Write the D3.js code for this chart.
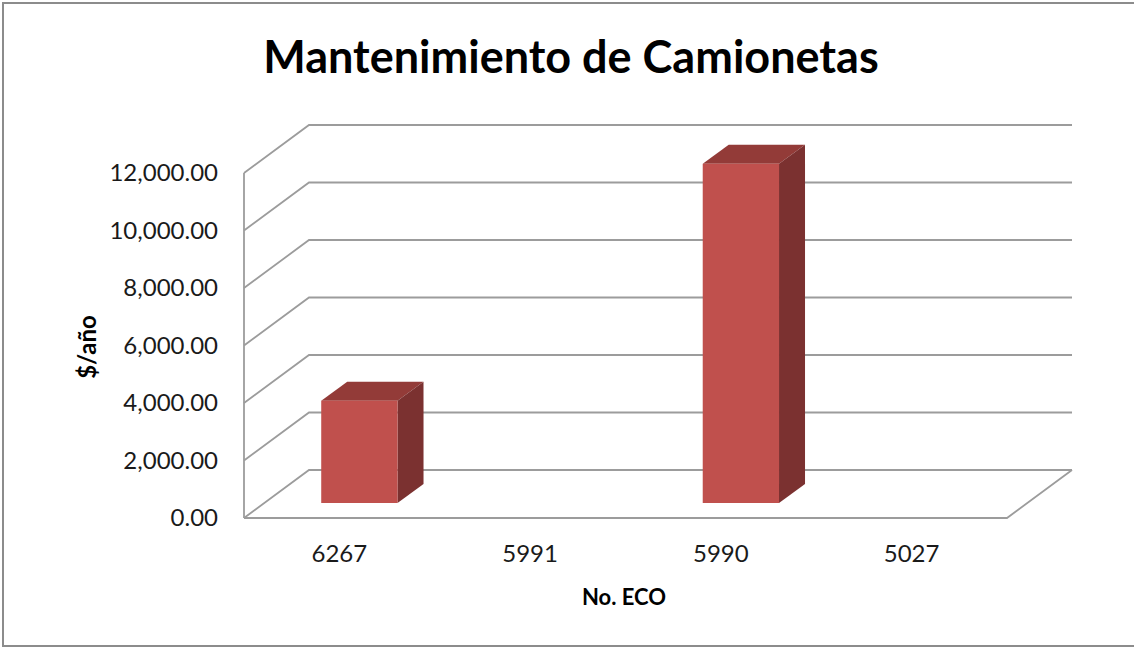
<!DOCTYPE html>
<html>
<head>
<meta charset="utf-8">
<script src="https://cdn.jsdelivr.net/npm/d3@7"></script>
<style>
  body { margin: 0; background: #fff; }
  svg { display: block; font-family: Lato, "Open Sans", sans-serif; }
</style>
</head>
<body>
<svg id="chart" width="1134" height="648"></svg>
<script>
const categories = ["6267", "5991", "5990", "5027"];
const values = [3560, 0, 11800, 0];
const yTicks = [0, 2000, 4000, 6000, 8000, 10000, 12000];

const svg = d3.select("#chart");

// 3d offsets: back wall, bar front and bar back
const depth = { dx: 65, dy: -48 };
const barFront = { dx: 20, dy: -15 };
const barBack = { dx: 46, dy: -34 };

const x = d3.scaleBand().domain(categories).range([244, 1007]).padding(0);
const y = d3.scaleLinear().domain([0, 12000]).range([518, 173]);
const fmt = d3.format(",.2f");

// outer frame (right edge falls outside the picture)
svg.append("rect")
  .attr("x", 3).attr("y", 3)
  .attr("width", 1145).attr("height", 643)
  .attr("fill", "none")
  .attr("stroke", "#8c8c8c")
  .attr("stroke-width", 2);

svg.append("text")
  .attr("x", 571).attr("y", 73)
  .attr("text-anchor", "middle")
  .style("font-size", "45px")
  .style("font-weight", "bold")
  .text("Mantenimiento de Camionetas");

const grid = svg.append("g")
  .attr("fill", "none")
  .attr("stroke", "#9c9c9c")
  .attr("stroke-width", 1.8);

// gridlines on side + back wall
grid.selectAll("path.grid")
  .data(yTicks)
  .enter().append("path")
  .attr("class", "grid")
  .attr("d", function(v) {
    return d3.line()([
      [x.range()[0], y(v)],
      [x.range()[0] + depth.dx, y(v) + depth.dy],
      [x.range()[1] + depth.dx, y(v) + depth.dy]
    ]);
  });

// front edge of side wall
grid.append("path")
  .attr("d", d3.line()([[x.range()[0], y(0)], [x.range()[0], y(12000)]]));

// floor front and right edges
grid.append("path")
  .attr("d", d3.line()([
    [x.range()[0], y(0)],
    [x.range()[1], y(0)],
    [x.range()[1] + depth.dx, y(0) + depth.dy]
  ]));

// y tick labels
svg.append("g").selectAll("text")
  .data(yTicks)
  .enter().append("text")
  .attr("x", 218)
  .attr("y", function(d) { return y(d) + 8; })
  .attr("text-anchor", "end")
  .style("font-size", "24px")
  .attr("fill", "#1a1a1a")
  .text(function(d) { return fmt(d); });

// x tick labels
svg.append("g").selectAll("text")
  .data(categories)
  .enter().append("text")
  .attr("x", function(d) { return x(d) + x.bandwidth() / 2; })
  .attr("y", 562)
  .attr("text-anchor", "middle")
  .style("font-size", "24px")
  .attr("fill", "#1a1a1a")
  .text(function(d) { return d; });

// bars
const bw = x.bandwidth() * 0.4;
const bars = svg.append("g").selectAll("g")
  .data(categories.map(function(c, i) { return { cat: c, value: values[i] }; }).filter(function(d) { return d.value > 0; }))
  .enter().append("g");

bars.append("path")  // top
  .attr("fill", "#933b38")
  .attr("d", function(d) {
    const x0 = x(d.cat) + x.bandwidth() * 0.3;
    const yt = y(d.value);
    return d3.line()([
      [x0 + barFront.dx, yt + barFront.dy],
      [x0 + barBack.dx, yt + barBack.dy],
      [x0 + bw + barBack.dx, yt + barBack.dy],
      [x0 + bw + barFront.dx, yt + barFront.dy]
    ]) + "Z";
  });

bars.append("path")  // side
  .attr("fill", "#7b3130")
  .attr("d", function(d) {
    const x1 = x(d.cat) + x.bandwidth() * 0.3 + bw;
    return d3.line()([
      [x1 + barFront.dx, y(d.value) + barFront.dy],
      [x1 + barBack.dx, y(d.value) + barBack.dy],
      [x1 + barBack.dx, y(0) + barBack.dy],
      [x1 + barFront.dx, y(0) + barFront.dy]
    ]) + "Z";
  });

bars.append("rect")  // front
  .attr("fill", "#c0504d")
  .attr("x", function(d) { return x(d.cat) + x.bandwidth() * 0.3 + barFront.dx; })
  .attr("y", function(d) { return y(d.value) + barFront.dy; })
  .attr("width", bw)
  .attr("height", function(d) { return y(0) - y(d.value); });

// axis titles
svg.append("text")
  .attr("x", 624).attr("y", 605)
  .attr("text-anchor", "middle")
  .style("font-size", "22px")
  .style("font-weight", "bold")
  .text("No. ECO");

svg.append("text")
  .attr("transform", "translate(96,347) rotate(-90)")
  .attr("text-anchor", "middle")
  .style("font-size", "24px")
  .style("font-weight", "bold")
  .text("$/año");
</script>
</body>
</html>
